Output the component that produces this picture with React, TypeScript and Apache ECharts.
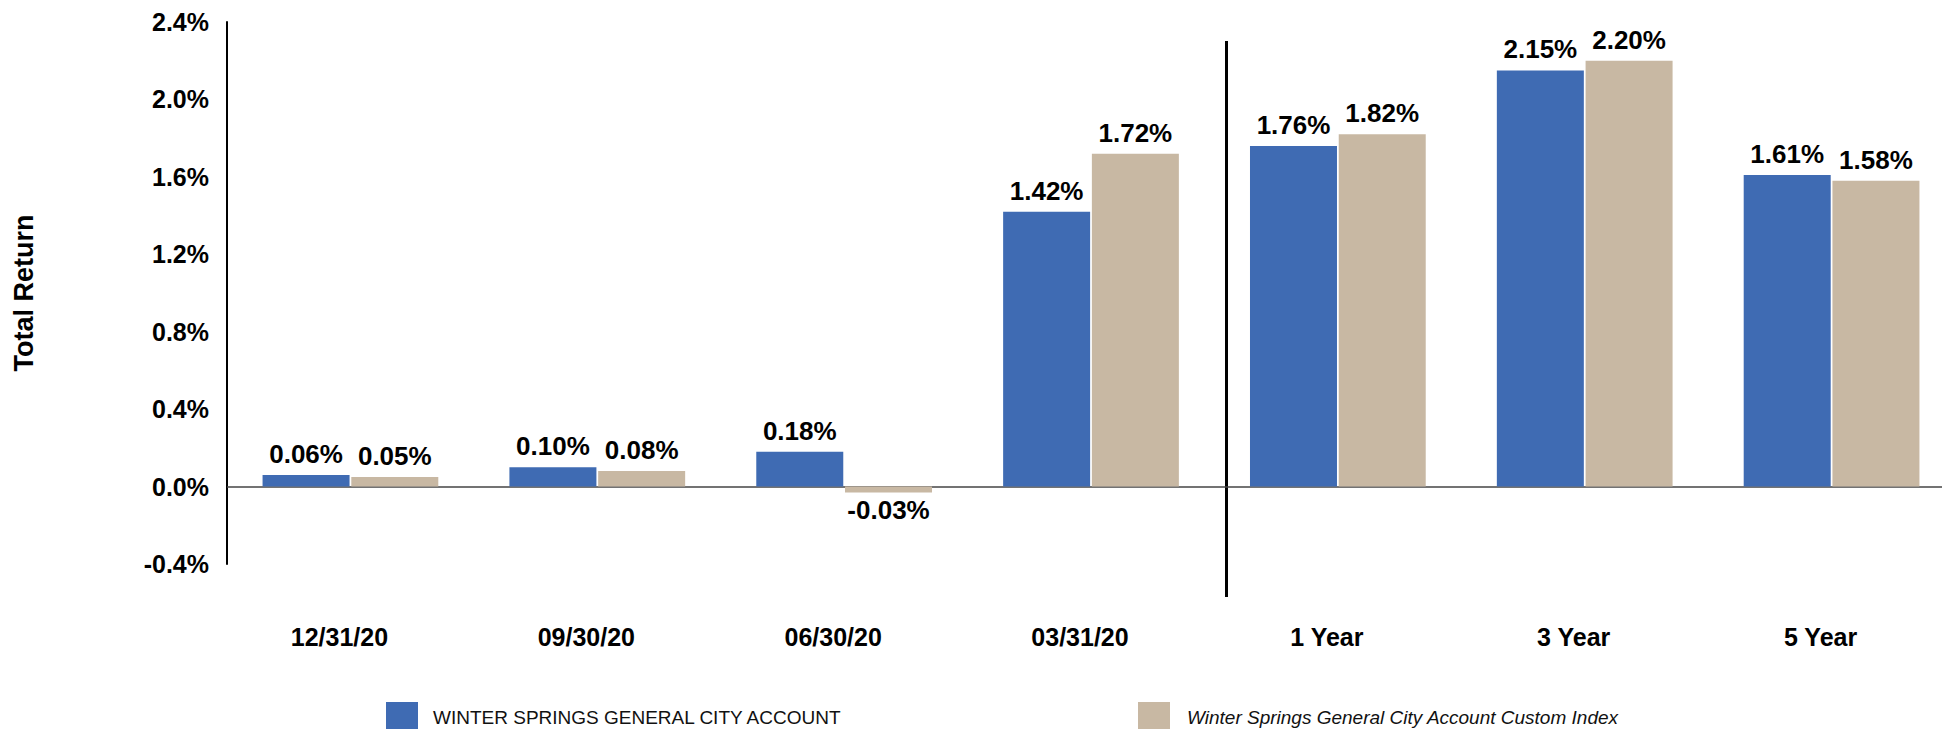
import React, { useEffect, useRef } from "react";
import * as echarts from "echarts";

const categories = ["12/31/20", "09/30/20", "06/30/20", "03/31/20", "1 Year", "3 Year", "5 Year"];
const accountName = "WINTER SPRINGS GENERAL CITY ACCOUNT";
const indexName = "Winter Springs General City Account Custom Index";
const accountValues = [0.06, 0.10, 0.18, 1.42, 1.76, 2.15, 1.61];
const indexValues = [0.05, 0.08, -0.03, 1.72, 1.82, 2.20, 1.58];
const yMin = -0.4;
const yMax = 2.4;
const yInterval = 0.4;
const yAxisTitle = "Total Return";

const FONT = "'Liberation Sans', Arial, Helvetica, sans-serif";

function toData(values: number[]) {
  return values.map((v) =>
    v < 0 ? { value: v, label: { position: "bottom", distance: 5 } } : v
  );
}

export default function App() {
  const ref = useRef<HTMLDivElement>(null);

  useEffect(() => {
    if (!ref.current) return;
    const chart = echarts.init(ref.current, null, { renderer: "svg" });
    const barLabel = {
      show: true,
      position: "top",
      distance: 8,
      color: "#000",
      fontFamily: FONT,
      fontWeight: "bold",
      fontSize: 26,
      formatter: (p: any) => Number(p.value).toFixed(2) + "%",
    };
    const legendBase = {
      top: 697,
      padding: 5,
      itemWidth: 32,
      itemHeight: 30,
      icon: "rect",
    };
    chart.setOption({
      animation: false,
      backgroundColor: "#fff",
      grid: {
        left: 227,
        width: 1728,
        top: 22,
        bottom: 165,
        containLabel: false,
        outerBoundsMode: "none",
      },
      legend: [
        {
          ...legendBase,
          data: [accountName],
          left: 381,
          textStyle: {
            fontFamily: FONT,
            fontSize: 19,
            color: "#111",
            padding: [0, 0, 0, 10],
          },
        },
        {
          ...legendBase,
          data: [indexName],
          left: 1133,
          textStyle: {
            fontFamily: FONT,
            fontSize: 19,
            fontStyle: "italic",
            color: "#111",
            padding: [0, 0, 0, 12],
          },
        },
      ],
      xAxis: {
        type: "category",
        data: categories,
        axisLine: { show: false, onZero: false },
        axisTick: { show: false },
        splitLine: { show: false },
        axisLabel: {
          margin: 60,
          color: "#000",
          fontFamily: FONT,
          fontWeight: "bold",
          fontSize: 25,
          padding: [0, 22, 0, 0],
        },
      },
      yAxis: {
        type: "value",
        min: yMin,
        max: yMax,
        interval: yInterval,
        name: yAxisTitle,
        nameLocation: "middle",
        nameRotate: 90,
        nameGap: 190,
        nameTextStyle: {
          color: "#000",
          fontFamily: FONT,
          fontWeight: "bold",
          fontSize: 27,
        },
        axisLine: { show: true, lineStyle: { color: "#000", width: 2 } },
        axisTick: { show: false },
        splitLine: { show: false },
        axisLabel: {
          margin: 18,
          color: "#000",
          fontFamily: FONT,
          fontWeight: "bold",
          fontSize: 25,
          formatter: (v: number) => v.toFixed(1) + "%",
        },
      },
      series: [
        {
          name: accountName,
          type: "bar",
          data: toData(accountValues),
          barWidth: 87,
          barGap: "2%",
          itemStyle: { color: "#3F6BB3" },
          label: barLabel,
          markLine: {
            silent: true,
            symbol: ["none", "none"],
            label: { show: false },
            lineStyle: { color: "#444", width: 1.5, type: "solid" },
            data: [{ yAxis: 0 }],
            z: 1,
          },
        },
        {
          name: indexName,
          type: "bar",
          data: toData(indexValues),
          barWidth: 87,
          barGap: "2%",
          itemStyle: { color: "#C8B8A3" },
          label: barLabel,
        },
      ],
      graphic: [
        {
          type: "line",
          shape: { x1: 1226.5, y1: 41, x2: 1226.5, y2: 597 },
          style: { stroke: "#000", lineWidth: 3 },
          silent: true,
        },
      ],
    });
    return () => chart.dispose();
  }, []);

  return (
    <div
      ref={ref}
      style={{ position: "fixed", left: 0, top: 0, width: 1942, height: 729, background: "#fff" }}
    />
  );
}
